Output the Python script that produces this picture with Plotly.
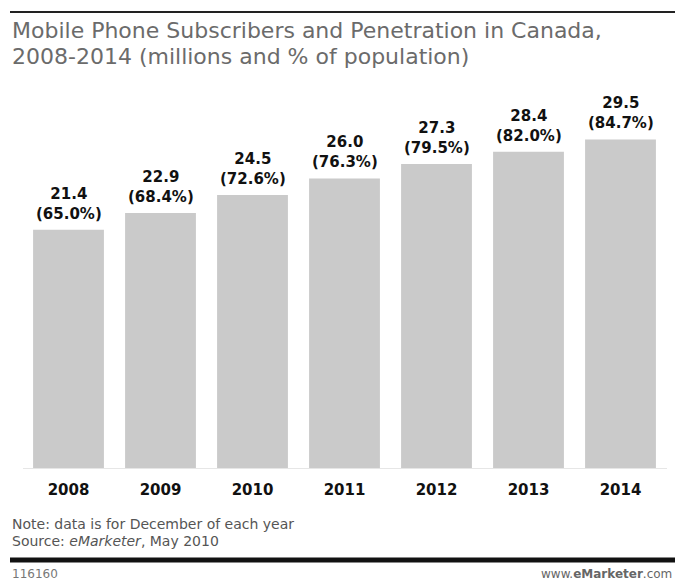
import plotly.graph_objects as go

# Mobile phone subscribers in Canada (millions) and penetration (% of population)
years = ["2008", "2009", "2010", "2011", "2012", "2013", "2014"]
subscribers = [21.4, 22.9, 24.5, 26.0, 27.3, 28.4, 29.5]
penetration = [65.0, 68.4, 72.6, 76.3, 79.5, 82.0, 84.7]

title_lines = [
    "Mobile Phone Subscribers and Penetration in Canada,",
    "2008-2014 (millions and % of population)",
]
note_text = "Note: data is for December of each year"
source_text = "Source: <i>eMarketer</i>, May 2010"
chart_id = "116160"
site_text = "www.<b>eMarketer</b>.com"

W, H = 675, 585
FONT = "DejaVu Sans"
TEXT_GRAY = "#6b6b6b"


def px_x(p):
    return p / W


def px_y(p):
    return 1 - p / H


# year strings look numeric, so bars sit on integer slots labelled with the years
slots = list(range(len(years)))

fig = go.Figure()
fig.add_trace(
    go.Bar(
        x=slots,
        y=subscribers,
        marker=dict(color="#cacaca", line=dict(width=0)),
        hoverinfo="skip",
    )
)

# value labels above each bar: millions on the first line, penetration below
for s, v, p in zip(slots, subscribers, penetration):
    fig.add_annotation(
        x=s, y=v, xref="x", yref="y",
        text=f"<b>{v:.1f}</b><br><b>({p:.1f}%)</b>",
        showarrow=False, yanchor="bottom", yshift=5,
        font=dict(family=FONT, size=15, color="#111111"),
    )

# title
for line, cy in zip(title_lines, [30, 57]):
    fig.add_annotation(
        x=px_x(10), y=px_y(cy), xref="paper", yref="paper",
        xanchor="left", yanchor="middle", showarrow=False,
        text=line, font=dict(family=FONT, size=22, color=TEXT_GRAY),
    )

# notes
fig.add_annotation(
    x=px_x(10), y=px_y(524), xref="paper", yref="paper",
    xanchor="left", yanchor="middle", showarrow=False,
    text=note_text, font=dict(family=FONT, size=14, color="#555555"),
)
fig.add_annotation(
    x=px_x(10), y=px_y(541), xref="paper", yref="paper",
    xanchor="left", yanchor="middle", showarrow=False,
    text=source_text, font=dict(family=FONT, size=14, color="#555555"),
)

# footer
fig.add_annotation(
    x=px_x(10), y=px_y(574), xref="paper", yref="paper",
    xanchor="left", yanchor="middle", showarrow=False,
    text=chart_id, font=dict(family=FONT, size=12, color="#777777"),
)
fig.add_annotation(
    x=px_x(674), y=px_y(574), xref="paper", yref="paper",
    xanchor="right", yanchor="middle", showarrow=False,
    text=site_text, font=dict(family=FONT, size=12, color="#666666"),
)

# rules: thin one above the title, heavy one above the footer
fig.add_shape(type="line", xref="paper", yref="paper",
              x0=px_x(10), x1=1, y0=px_y(12), y1=px_y(12),
              line=dict(color="#222222", width=2))
fig.add_shape(type="line", xref="paper", yref="paper",
              x0=px_x(10), x1=1, y0=px_y(560), y1=px_y(560),
              line=dict(color="#111111", width=5))

fig.update_layout(
    width=W, height=H,
    margin=dict(l=0, r=0, t=0, b=0),
    paper_bgcolor="white", plot_bgcolor="white",
    showlegend=False,
    bargap=0.23,
    xaxis=dict(
        domain=[px_x(22.5), px_x(666.5)],
        range=[-0.5, len(years) - 0.5],
        tickmode="array", tickvals=slots, ticktext=years,
        showgrid=False, zeroline=False, showline=True,
        linecolor="#e6e6e6", linewidth=1,
        ticks="", ticklabelstandoff=8,
        tickfont=dict(family=FONT, size=15, color="#111111", weight="bold"),
    ),
    yaxis=dict(
        domain=[px_y(468), px_y(67)],
        range=[0, 36],
        showgrid=False, zeroline=False, showline=False,
        showticklabels=False, ticks="",
    ),
)

fig.write_html("out.html")
